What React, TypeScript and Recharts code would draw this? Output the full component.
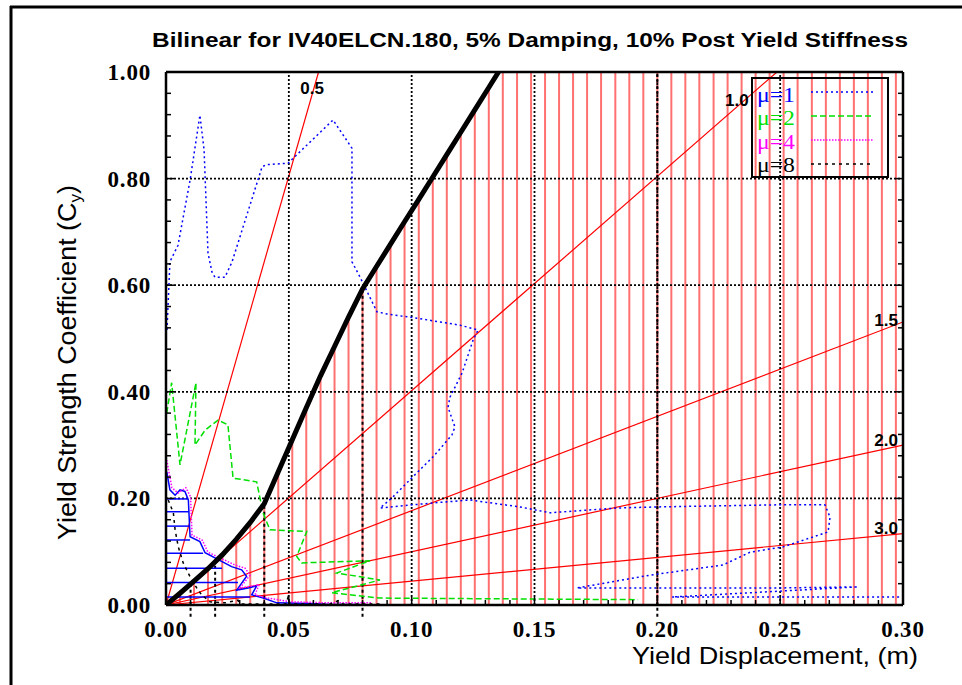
import React from 'react';
import { ComposedChart, Line, XAxis, YAxis, ReferenceLine, ReferenceDot } from 'recharts';

// plot box in page pixels (kept in sync with the chart margins below)
const PLOT_LEFT = 166;
const PLOT_RIGHT = 903;
const PLOT_TOP = 72;
const PLOT_BOTTOM = 605;

const xTicks = [0, 0.01, 0.02, 0.03, 0.04, 0.05, 0.06, 0.07, 0.08, 0.09, 0.1, 0.11, 0.12, 0.13, 0.14, 0.15, 0.16, 0.17, 0.18, 0.19, 0.2, 0.21, 0.22, 0.23, 0.24, 0.25, 0.26, 0.27, 0.28, 0.29, 0.3];
const xLabelTicks = [0, 0.05, 0.1, 0.15, 0.2, 0.25, 0.3];
const yTicks = [0, 0.04, 0.08, 0.12, 0.16, 0.2, 0.24, 0.28, 0.32, 0.36, 0.4, 0.44, 0.48, 0.52, 0.56, 0.6, 0.64, 0.68, 0.72, 0.76, 0.8, 0.84, 0.88, 0.92, 0.96, 1];
const yLabelTicks = [0, 0.2, 0.4, 0.6, 0.8, 1];

// bilinear envelope (thick black)
const capacityX = [0, 0.0057, 0.0114, 0.0171, 0.0229, 0.0286, 0.0343, 0.04, 0.0457, 0.0514, 0.0571, 0.0629, 0.0686, 0.0743, 0.08, 0.0857, 0.0914, 0.0971, 0.1029, 0.1086, 0.1143, 0.12, 0.1257, 0.1314, 0.1371];
const capacityY = [0, 0.022, 0.045, 0.068, 0.094, 0.123, 0.155, 0.19, 0.25, 0.31, 0.37, 0.43, 0.485, 0.54, 0.593, 0.635, 0.677, 0.719, 0.761, 0.803, 0.845, 0.887, 0.929, 0.971, 1.013];

// red drop lines under the envelope
const dropX = [0.0057, 0.0114, 0.0171, 0.0229, 0.0286, 0.0343, 0.04, 0.0457, 0.0514, 0.0571, 0.0629, 0.0686, 0.0743, 0.08, 0.0857, 0.0914, 0.0971, 0.1029, 0.1086, 0.1143, 0.12, 0.1257, 0.1314, 0.1371, 0.1429, 0.1486, 0.1543, 0.16, 0.1657, 0.1714, 0.1771, 0.1829, 0.1886, 0.1943, 0.2, 0.2057, 0.2114, 0.2171, 0.2229, 0.2286, 0.2343, 0.24, 0.2457, 0.2514, 0.2571, 0.2629, 0.2686, 0.2743, 0.28, 0.2857, 0.2914, 0.2971];
const dropTop = [0.022, 0.045, 0.068, 0.094, 0.123, 0.155, 0.19, 0.25, 0.31, 0.37, 0.43, 0.485, 0.54, 0.593, 0.635, 0.677, 0.719, 0.761, 0.803, 0.845, 0.887, 0.929, 0.971, 1, 1, 1, 1, 1, 1, 1, 1, 1, 1, 1, 1, 1, 1, 1, 1, 1, 1, 1, 1, 1, 1, 1, 1, 1, 1, 1, 1, 1];

// black dotted markers that run below the axis
const markX = [0.01, 0.02, 0.04, 0.08, 0.2];
const markTop = [0.04, 0.081, 0.19, 0.593, 1];

// constant period lines
const periodLabels = ['0.5', '1.0', '1.5', '2.0', '3.0'];
const periodEndX = [0.0621, 0.2487, 0.3, 0.3, 0.3];
const periodEndY = [1, 1, 0.531, 0.3, 0.134];
const periodLabelX = [0.0595, 0.2324, 0.2931, 0.2931, 0.2931];
const periodLabelY = [0.97, 0.9475, 0.5347, 0.3096, 0.1445];

// mu = 1
const mu1X = [0.0004, 0.0016, 0.0049, 0.0098, 0.0138, 0.0155, 0.0171, 0.0187, 0.0199, 0.024, 0.0269, 0.0391, 0.0407, 0.0497, 0.068, 0.0757, 0.0757, 0.079, 0.0859, 0.09, 0.1022, 0.1197, 0.127, 0.125, 0.1205, 0.1156, 0.1148, 0.1176, 0.1164, 0.1087, 0.0993, 0.092, 0.0871, 0.1075, 0.1237, 0.1441, 0.1563, 0.1836, 0.1999, 0.2499, 0.2682, 0.2703, 0.2695, 0.2511, 0.2377, 0.2267, 0.197, 0.1673, 0.1999, 0.2499, 0.2817, 0.206, 0.3];
const mu1Y = [0.516, 0.644, 0.675, 0.797, 0.919, 0.854, 0.66, 0.625, 0.615, 0.615, 0.644, 0.822, 0.826, 0.829, 0.91, 0.857, 0.644, 0.615, 0.55, 0.546, 0.538, 0.525, 0.516, 0.497, 0.435, 0.39, 0.371, 0.334, 0.319, 0.278, 0.235, 0.201, 0.182, 0.191, 0.197, 0.184, 0.173, 0.182, 0.184, 0.188, 0.188, 0.165, 0.137, 0.109, 0.099, 0.075, 0.056, 0.032, 0.032, 0.032, 0.034, 0.015, 0.015];

// mu = 2
const mu2X = [0.0003, 0.0023, 0.0057, 0.0122, 0.0118, 0.0159, 0.0212, 0.0252, 0.0273, 0.0369, 0.0395, 0.0423, 0.0573, 0.0532, 0.0552, 0.083, 0.0695, 0.0871, 0.0674, 0.0871, 0.1921];
const mu2Y = [0.36, 0.417, 0.263, 0.417, 0.3, 0.328, 0.347, 0.338, 0.238, 0.231, 0.173, 0.141, 0.138, 0.091, 0.079, 0.083, 0.06, 0.047, 0.023, 0.013, 0.01];

// mu = 4
const mu4X = [0.0003, 0.0024, 0.0049, 0.0081, 0.01, 0.0106, 0.0147, 0.0171, 0.0281, 0.0322, 0.0342, 0.0301, 0.0379, 0.0362, 0.0415, 0.0505, 0.0668, 0.0839];
const mu4Y = [0.272, 0.22, 0.21, 0.22, 0.203, 0.131, 0.122, 0.099, 0.075, 0.069, 0.056, 0.032, 0.038, 0.019, 0.013, 0.006, 0.004, 0.004];

// mu = 8
const mu8X = [0.0009, 0.003, 0.0037, 0.005, 0.007, 0.0098, 0.0125, 0.0145, 0.0179, 0.024, 0.0293, 0.0301, 0.0488, 0.0497, 0.0505, 0.0668, 0.07, 0.0716, 0.0871];
const mu8Y = [0.197, 0.173, 0.141, 0.109, 0.079, 0.053, 0.032, 0.019, 0.006, 0.004, 0.009, 0.002, 0.002, 0.015, 0.002, 0.002, 0.008, 0.002, 0.002];

// solid blue strength curve with its horizontal hatching
const blueX = [0.0003, 0.0016, 0.0037, 0.0057, 0.0077, 0.0091, 0.0098, 0.0138, 0.0159, 0.0267, 0.0308, 0.0328, 0.0288, 0.0335, 0.0369, 0.0349, 0.0396, 0.0451, 0.0586, 0.0668, 0.079];
const blueY = [0.25, 0.216, 0.206, 0.216, 0.213, 0.197, 0.128, 0.119, 0.098, 0.072, 0.066, 0.054, 0.028, 0.032, 0.036, 0.019, 0.013, 0.004, 0.003, 0.001, 0.001];
const hatchY = [0.199, 0.175, 0.148, 0.122, 0.097, 0.069, 0.042, 0.015];
const hatchEnd = [0.0089, 0.0094, 0.0094, 0.0098, 0.0151, 0.0228, 0.0293, 0.0342];

const legendItems = [
  { label: 'μ=1', color: '#0000ff', dash: '2 3' },
  { label: 'μ=2', color: '#00e000', dash: '6 3' },
  { label: 'μ=4', color: '#ff00ff', dash: '1.5 1.5' },
  { label: 'μ=8', color: '#000000', dash: '3 4' },
];

const zip = (xs: number[], ys: number[]) => xs.map((d, i) => ({ d, c: ys[i] }));
const isOn = (list: number[], v: number) => list.some((t) => Math.abs(t - v) < 1e-6);

const serif = '"Liberation Serif", "Times New Roman", serif';
const sans = '"Liberation Sans", Arial, sans-serif';

const BottomTick = (p: any) => {
  const major = isOn(xLabelTicks, p.payload.value);
  return (
    <g>
      <line x1={p.x} x2={p.x} y1={PLOT_BOTTOM} y2={PLOT_BOTTOM - (major ? 8 : 5)} stroke="#000" strokeWidth={1.5} />
      {major && (
        <text x={p.x} y={637} textAnchor="middle" fontFamily={serif} fontWeight={700} fontSize={23} letterSpacing={0.8} fill="#000">
          {p.payload.value.toFixed(2)}
        </text>
      )}
    </g>
  );
};

const TopTick = (p: any) => {
  const major = isOn(xLabelTicks, p.payload.value);
  return <line x1={p.x} x2={p.x} y1={PLOT_TOP} y2={PLOT_TOP + (major ? 8 : 5)} stroke="#000" strokeWidth={1.5} />;
};

const LeftTick = (p: any) => {
  const major = isOn(yLabelTicks, p.payload.value);
  return (
    <g>
      <line x1={PLOT_LEFT} x2={PLOT_LEFT + (major ? 8 : 5)} y1={p.y} y2={p.y} stroke="#000" strokeWidth={1.5} />
      {major && (
        <text x={151} y={p.y + 8} textAnchor="end" fontFamily={serif} fontWeight={700} fontSize={23} letterSpacing={0.8} fill="#000">
          {p.payload.value.toFixed(2)}
        </text>
      )}
    </g>
  );
};

const RightTick = (p: any) => {
  const major = isOn(yLabelTicks, p.payload.value);
  return <line x1={PLOT_RIGHT} x2={PLOT_RIGHT - (major ? 8 : 5)} y1={p.y} y2={p.y} stroke="#000" strokeWidth={1.5} />;
};

const frameAxis = { stroke: '#000', strokeWidth: 2.5 };

export default function App() {
  return (
    <div style={{ position: 'absolute', left: 0, top: 0, width: 962, height: 685, background: '#fff' }}>
      <ComposedChart width={962} height={685} margin={{ top: 62, right: 49, bottom: 70, left: 156 }}>
        <XAxis xAxisId={0} dataKey="d" type="number" domain={[0, 0.3]} allowDataOverflow ticks={xTicks} interval={0}
          height={10} tickSize={0} tickMargin={0} tickLine={false} axisLine={frameAxis} tick={(p: any) => <BottomTick {...p} />} />
        <XAxis xAxisId="top" orientation="top" type="number" domain={[0, 0.3]} allowDataOverflow ticks={xTicks} interval={0}
          height={10} tickSize={0} tickMargin={0} tickLine={false} axisLine={frameAxis} tick={(p: any) => <TopTick {...p} />} />
        <YAxis yAxisId={0} type="number" domain={[0, 1]} allowDataOverflow ticks={yTicks} interval={0}
          width={10} tickSize={0} tickMargin={0} tickLine={false} axisLine={frameAxis} tick={(p: any) => <LeftTick {...p} />} />
        <YAxis yAxisId="right" orientation="right" type="number" domain={[0, 1]} allowDataOverflow ticks={yTicks} interval={0}
          width={10} tickSize={0} tickMargin={0} tickLine={false} axisLine={frameAxis} tick={(p: any) => <RightTick {...p} />} />

        {dropX.map((x, i) => (
          <ReferenceLine key={'drop' + i} segment={[{ x, y: 0 }, { x, y: dropTop[i] }]} stroke="#ff7070" strokeWidth={2} />
        ))}

        {periodLabels.map((t, i) => (
          <Line key={'per' + t} data={zip([0, periodEndX[i]], [0, periodEndY[i]])} dataKey="c" stroke="#ff0000" strokeWidth={1.2}
            dot={false} activeDot={false} isAnimationActive={false} legendType="none" />
        ))}

        {xLabelTicks.slice(1, -1).map((x) => (
          <ReferenceLine key={'gx' + x} x={x} stroke="#000" strokeWidth={1.8} strokeDasharray="2 2" />
        ))}
        {yLabelTicks.slice(1, -1).map((y) => (
          <ReferenceLine key={'gy' + y} y={y} stroke="#000" strokeWidth={1.8} strokeDasharray="2 2" />
        ))}

        {markX.map((x, i) => (
          <ReferenceLine key={'mk' + i} segment={[{ x, y: -0.022 }, { x, y: markTop[i] }]} ifOverflow="visible"
            stroke="#000" strokeWidth={2} strokeDasharray="3 3" />
        ))}

        {hatchY.map((y, i) => (
          <ReferenceLine key={'h' + i} segment={[{ x: 0, y }, { x: hatchEnd[i], y }]} stroke="#0000ff" strokeWidth={1.5} />
        ))}

        <Line data={zip(blueX, blueY)} dataKey="c" stroke="#0000ff" strokeWidth={1.5} dot={false} isAnimationActive={false} />
        <Line data={zip(mu4X, mu4Y)} dataKey="c" stroke="#ff00ff" strokeWidth={1.5} strokeDasharray="1.5 1.5" dot={false} isAnimationActive={false} />
        <Line data={zip(mu8X, mu8Y)} dataKey="c" stroke="#000" strokeWidth={1.5} strokeDasharray="3 4" dot={false} isAnimationActive={false} />
        <Line data={zip(mu2X, mu2Y)} dataKey="c" stroke="#00e000" strokeWidth={1.5} strokeDasharray="6 3" dot={false} isAnimationActive={false} />
        <Line data={zip(mu1X, mu1Y)} dataKey="c" stroke="#0000ff" strokeWidth={1.5} strokeDasharray="2 3" dot={false} isAnimationActive={false} />
        <Line data={zip(capacityX, capacityY)} dataKey="c" stroke="#000" strokeWidth={5} dot={false} isAnimationActive={false} />

        {periodLabels.map((t, i) => (
          <ReferenceDot key={'pl' + t} x={periodLabelX[i]} y={periodLabelY[i]} r={1} fill="none" stroke="none"
            label={{ value: t, position: 'center', fill: '#000', fontSize: 17, fontWeight: 700, fontFamily: sans }} />
        ))}
      </ComposedChart>

      <svg width={962} height={685} style={{ position: 'absolute', left: 0, top: 0, pointerEvents: 'none' }}>
        <line x1={11} y1={6} x2={11} y2={685} stroke="#000" strokeWidth={3} />
        <line x1={10} y1={7} x2={962} y2={7} stroke="#000" strokeWidth={3} />
        <text x={152} y={47} textLength={756} lengthAdjust="spacingAndGlyphs" fontFamily={sans} fontWeight={700} fontSize={20} fill="#000">
          Bilinear for IV40ELCN.180, 5% Damping, 10% Post Yield Stiffness
        </text>
        <text x={632} y={664} textLength={286} lengthAdjust="spacingAndGlyphs" fontFamily={sans} fontSize={24} fill="#000">Yield Displacement, (m)</text>
        <text x={0} y={0} transform="translate(76 540) rotate(-90)" textLength={355} lengthAdjust="spacingAndGlyphs" fontFamily={sans} fontSize={25} fill="#000">
          Yield Strength Coefficient (C<tspan fontSize={16} dy={5}>y</tspan><tspan dy={-5}>)</tspan>
        </text>

        <rect x={752} y={78} width={136} height={99} fill="none" stroke="#000" strokeWidth={2} />
        {legendItems.map((it, i) => (
          <g key={it.label}>
            <text x={757} y={102 + i * 23.3} textLength={38} lengthAdjust="spacingAndGlyphs" fontFamily={serif} fontSize={20} fill={it.color}>{it.label}</text>
            <line x1={811} x2={873} y1={92 + i * 24} y2={92 + i * 24} stroke={it.color} strokeWidth={1.5} strokeDasharray={it.dash} />
          </g>
        ))}
      </svg>
    </div>
  );
}
